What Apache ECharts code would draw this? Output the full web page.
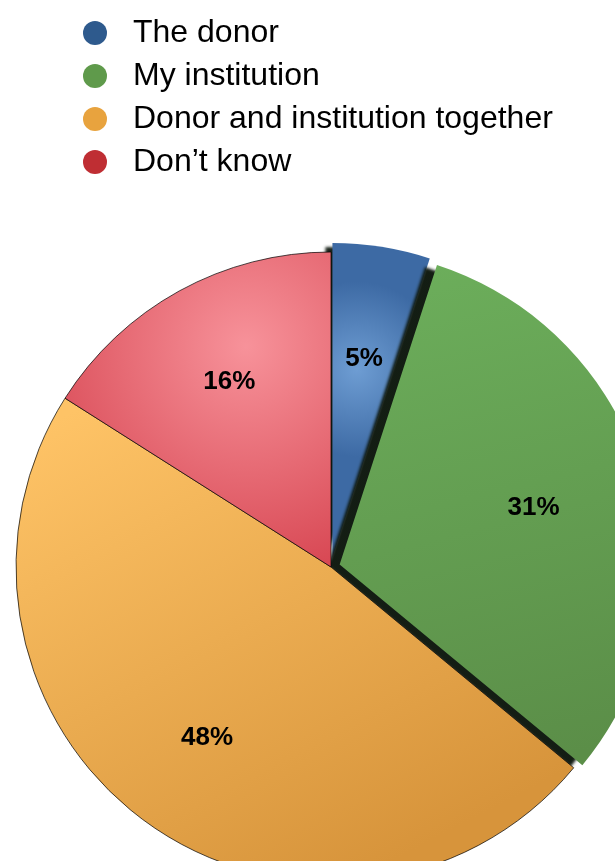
<!DOCTYPE html>
<html>
<head>
<meta charset="utf-8">
<script src="https://cdn.jsdelivr.net/npm/echarts@6/dist/echarts.min.js"></script>
<style>
  html, body { margin: 0; padding: 0; background: #ffffff; }
  #chart { width: 615px; height: 861px; }
</style>
</head>
<body>
<div id="chart"></div>
<script>
// Who should own the result? Share of answers, in percent.
const categories = ['The donor', 'My institution', 'Donor and institution together', 'Don\u2019t know'];
const shares = [5, 31, 48, 16];
// Slices pulled out of the pie
const exploded = [true, true, false, false];

const legendColors = ['#2E5A8D', '#5F9A4B', '#E8A33E', '#BF2E33'];

const sliceFills = [
  { type: 'radial', x: 0.25, y: 0.4, r: 0.9,
    colorStops: [{ offset: 0, color: '#6E9DD3' }, { offset: 1, color: '#3D6AA4' }] },
  { type: 'linear', x: 0.2, y: 0, x2: 0.6, y2: 1,
    colorStops: [{ offset: 0, color: '#6CAE5B' }, { offset: 1, color: '#5B8E48' }] },
  { type: 'linear', x: 0.15, y: 0, x2: 0.6, y2: 1,
    colorStops: [{ offset: 0, color: '#FEC366' }, { offset: 1, color: '#D7943B' }] },
  { type: 'radial', x: 0.68, y: 0.3, r: 0.95,
    colorStops: [{ offset: 0, color: '#F7929A' }, { offset: 1, color: '#D5414D' }] }
];

// drop shadow under each pulled-out slice
const sliceShadows = [
  { shadowColor: 'rgba(12,22,12,0.95)', shadowBlur: 3, shadowOffsetX: -7, shadowOffsetY: 4 },
  { shadowColor: 'rgba(12,22,12,0.97)', shadowBlur: 3, shadowOffsetX: -12, shadowOffsetY: 2 }
];

const sliceData = categories.map((name, i) => {
  const style = { color: sliceFills[i] };
  if (exploded[i]) {
    Object.assign(style, sliceShadows[i]);
  } else {
    Object.assign(style, { borderColor: 'rgba(0,0,0,0.7)', borderWidth: 1 });
  }
  return { name, value: shares[i], selected: exploded[i], itemStyle: style, select: { itemStyle: style } };
});

const chart = echarts.init(document.getElementById('chart'), null, { renderer: 'canvas' });

chart.setOption({
  animation: false,
  backgroundColor: '#ffffff',
  legend: {
    orient: 'vertical',
    left: 78,
    top: 12,
    icon: 'circle',
    itemWidth: 24,
    itemHeight: 24,
    itemGap: 11,
    selectedMode: false,
    data: categories.map((name, i) => ({
      name,
      itemStyle: { color: legendColors[i], borderWidth: 0, shadowBlur: 0, shadowOffsetX: 0, shadowOffsetY: 0 }
    })),
    textStyle: {
      fontFamily: 'Liberation Sans, Arial, Helvetica, sans-serif',
      fontSize: 32,
      color: '#000000',
      padding: [0, 0, 0, 21]
    }
  },
  series: [
    {
      name: 'slices',
      type: 'pie',
      center: [331, 567],
      radius: 315,
      startAngle: 90,
      clockwise: true,
      selectedMode: 'multiple',
      selectedOffset: 9,
      silent: true,
      label: { show: false },
      labelLine: { show: false },
      emphasis: { disabled: true },
      data: sliceData
    },
    {
      // transparent copy that only carries the percentage labels
      name: 'labels',
      type: 'pie',
      center: [331, 567],
      radius: 416,
      startAngle: 90,
      clockwise: true,
      silent: true,
      avoidLabelOverlap: false,
      itemStyle: { color: 'rgba(0,0,0,0)' },
      emphasis: { disabled: true },
      labelLine: { show: false },
      label: {
        show: true,
        position: 'inside',
        formatter: '{c}%',
        fontFamily: 'Liberation Sans, Arial, Helvetica, sans-serif',
        fontWeight: 'bold',
        fontSize: 26,
        color: '#000000'
      },
      data: categories.map((name, i) => ({ name, value: shares[i] }))
    }
  ]
});
</script>
</body>
</html>
